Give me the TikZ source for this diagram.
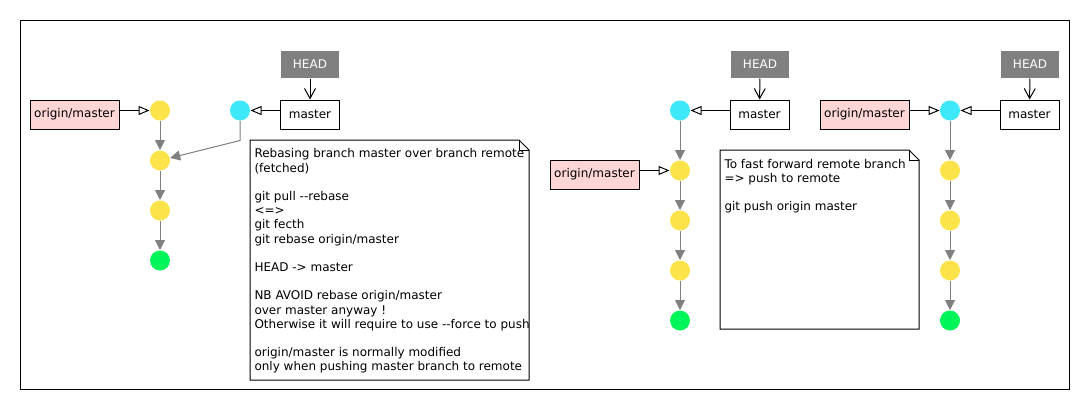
\documentclass[tikz,border=0pt]{standalone}
\usepackage{fontspec}
\setmainfont{DejaVu Sans}
\usetikzlibrary{arrows.meta}
\definecolor{commityellow}{HTML}{FCE34A}
\definecolor{commitcyan}{HTML}{3DE8F8}
\definecolor{commitgreen}{HTML}{00F55A}
\definecolor{remotepink}{HTML}{FFD6D6}
\tikzset{
  commit/.style={circle,minimum size=20pt,inner sep=0pt},
  branchref/.style={draw,minimum height=29pt,inner sep=0pt,font=\fontsize{12}{14}\selectfont},
  remoteref/.style={branchref,fill=remotepink,minimum width=89pt},
  localref/.style={branchref,fill=white,minimum width=59pt},
  headref/.style={fill=gray,text=white,minimum width=58pt,minimum height=27pt,inner sep=0pt,font=\fontsize{12}{14}\selectfont},
  parent/.style={draw=gray,-{Triangle[length=10pt,width=10pt]}},
  pointsto/.style={-{Triangle[open,length=11pt,width=9pt]}},
  headarrow/.style={-{Straight Barb[length=10pt,width=11pt]}},
  notetext/.style={anchor=north west,inner sep=0pt,align=left,font=\fontsize{12}{14.2}\selectfont}
}
\begin{document}
\begin{tikzpicture}[x=1pt,y=-1pt,line width=1pt]
\useasboundingbox (0,0) rectangle (1090,410);
\draw (20.5,20.5) rectangle (1069.5,389);

\node[remoteref] (lorigin) at (74.5,114.5) {origin/master};
\node[commit,fill=commityellow] (l1) at (160,110.5) {};
\node[commit,fill=commityellow] (l2) at (160,160.5) {};
\node[commit,fill=commityellow] (l3) at (160,210.5) {};
\node[commit,fill=commitgreen] (l4) at (160,260.5) {};
\node[commit,fill=commitcyan] (lc) at (240,110.5) {};
\node[localref] (lmaster) at (310,114.5) {master};
\node[headref] (lhead) at (310,64.5) {HEAD};
\draw[pointsto] (lorigin.east |- l1) -- (l1);
\draw[pointsto] (lmaster.west |- lc) -- (lc);
\draw[headarrow] (lhead) -- (lmaster);
\draw[parent] (l1) -- (l2);
\draw[parent] (l2) -- (l3);
\draw[parent] (l3) -- (l4);
\draw[parent] (lc) -- ++(0,30) -- (l2);
\draw[fill=white] (250,140) -- (519,140) -- (529,150) -- (529,380) -- (250,380) -- cycle;
\draw (519,140) -- (519,150) -- (529,150);
\node[notetext] (lnote) at (254,148.2) {Rebasing branch master over branch remote\\(fetched)\\[14.2pt]git pull -{}-rebase\\<=>\\git fecth\\git rebase origin/master\\[14.2pt]HEAD -> master\\[14.2pt]NB AVOID rebase origin/master\\over master anyway !\\Otherwise it will require to use -{}-force to push\\[14.2pt]origin/master is normally modified\\only when pushing master branch to remote};

\node[commit,fill=commitcyan] (mc) at (680,110.5) {};
\node[commit,fill=commityellow] (m1) at (680,170.5) {};
\node[commit,fill=commityellow] (m2) at (680,220.5) {};
\node[commit,fill=commityellow] (m3) at (680,270.5) {};
\node[commit,fill=commitgreen] (m4) at (680,320.5) {};
\node[localref] (mmaster) at (759.5,114.5) {master};
\node[headref] (mhead) at (760,64.5) {HEAD};
\node[remoteref] (morigin) at (594.5,174.5) {origin/master};
\draw[pointsto] (mmaster.west |- mc) -- (mc);
\draw[pointsto] (morigin.east |- m1) -- (m1);
\draw[headarrow] (mhead) -- (mmaster);
\draw[parent] (mc) -- (m1);
\draw[parent] (m1) -- (m2);
\draw[parent] (m2) -- (m3);
\draw[parent] (m3) -- (m4);
\draw[fill=white] (720,150) -- (909,150) -- (919,160) -- (919,329) -- (720,329) -- cycle;
\draw (909,150) -- (909,160) -- (919,160);
\node[notetext] (mnote) at (724,158.6) {To fast forward remote branch\\=> push to remote\\[14.2pt]git push origin master};

\node[remoteref] (rorigin) at (864.5,114.5) {origin/master};
\node[commit,fill=commitcyan] (rc) at (950,110.5) {};
\node[commit,fill=commityellow] (r1) at (950,170.5) {};
\node[commit,fill=commityellow] (r2) at (950,220.5) {};
\node[commit,fill=commityellow] (r3) at (950,270.5) {};
\node[commit,fill=commitgreen] (r4) at (950,320.5) {};
\node[localref] (rmaster) at (1029.5,114.5) {master};
\node[headref] (rhead) at (1030,64.5) {HEAD};
\draw[pointsto] (rorigin.east |- rc) -- (rc);
\draw[pointsto] (rmaster.west |- rc) -- (rc);
\draw[headarrow] (rhead) -- (rmaster);
\draw[parent] (rc) -- (r1);
\draw[parent] (r1) -- (r2);
\draw[parent] (r2) -- (r3);
\draw[parent] (r3) -- (r4);
\end{tikzpicture}
\end{document}
